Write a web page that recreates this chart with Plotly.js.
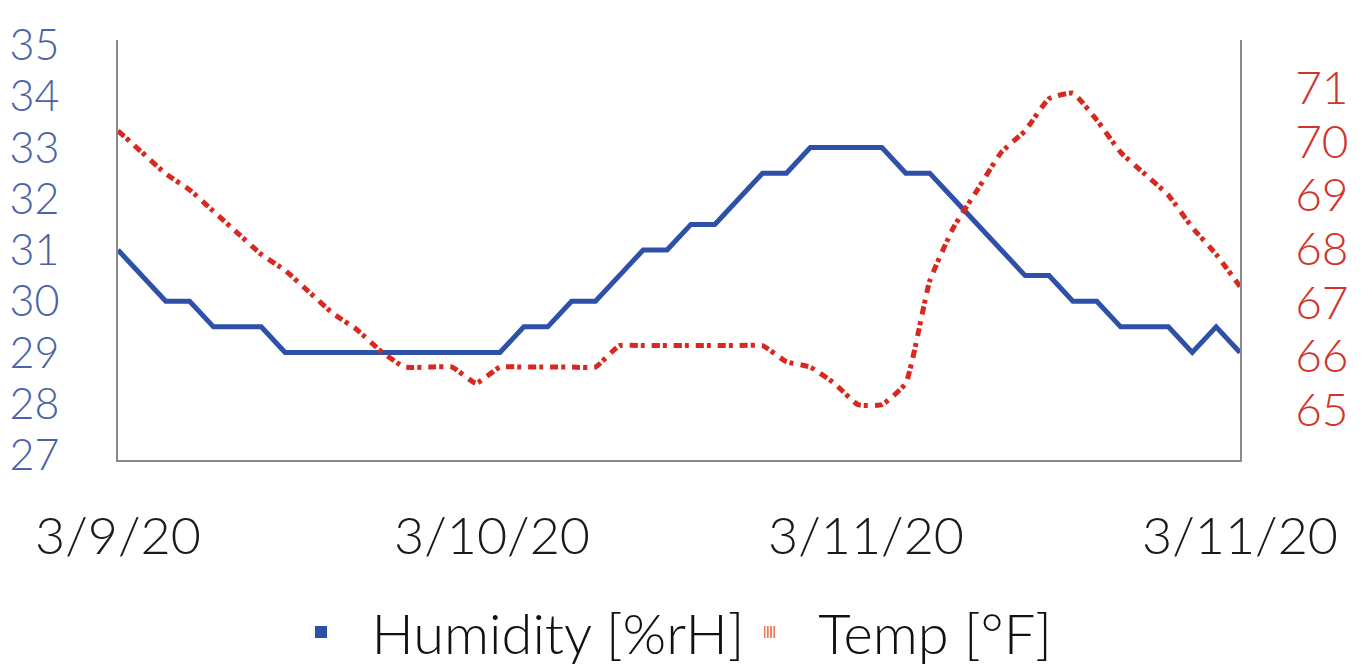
<!DOCTYPE html>
<html>
<head>
<meta charset="utf-8">
<script src="https://cdn.plot.ly/plotly-3.0.1.min.js"></script>
<style>html,body{margin:0;padding:0;background:#fff;}#chart{width:1361px;height:667px;}</style>
</head>
<body>
<div id="chart"></div>
<script>
// hourly readings (index 0..47)
const humidity = [31, 30.5, 30, 30, 29.5, 29.5, 29.5, 29, 29, 29, 29, 29, 29, 29, 29, 29,
  29, 29.5, 29.5, 30, 30, 30.5, 31, 31, 31.5, 31.5, 32, 32.5, 32.5, 33, 33, 33,
  33, 32.5, 32.5, 32, 31.5, 31, 30.5, 30.5, 30, 30, 29.5, 29.5, 29.5, 29, 29.5, 29];
const temp = [70.2, 69.8, 69.4, 69.1, 68.7, 68.3, 67.9, 67.6, 67.2, 66.8, 66.5, 66.1,
  65.8, 65.8, 65.8, 65.5, 65.8, 65.8, 65.8, 65.8, 65.8, 66.2, 66.2, 66.2, 66.2, 66.2, 66.2, 66.2,
  65.9, 65.8, 65.5, 65.1, 65.1, 65.5, 67.4, 68.4, 69.1, 69.8, 70.2, 70.8, 70.9, 70.4,
  69.8, 69.4, 69.0, 68.4, 67.9, 67.3];
const xLabels = ['3/9/20', '3/10/20', '3/11/20', '3/11/20'];
const leftTicks = [27, 28, 29, 30, 31, 32, 33, 34, 35];
const rightTicks = [65, 66, 67, 68, 69, 70, 71];
const names = ['Humidity [%rH]', 'Temp [°F]'];

const idx = humidity.map((_, i) => i);
const last = idx.length - 1;
const tickPos = xLabels.map((_, i) => i * last / (xLabels.length - 1));

const BLUE = '#2f50a8';
const RED = '#d8291f';
const FONT = 'Lato, Roboto, "Liberation Sans", sans-serif';
const PAD = '\u00a0\u00a0';

const traces = [
  {x: idx, y: humidity, type: 'scatter', mode: 'lines', yaxis: 'y', showlegend: false,
   line: {color: BLUE, width: 5}},
  {x: idx, y: temp, type: 'scatter', mode: 'lines', yaxis: 'y2', showlegend: false,
   line: {color: RED, width: 5, dash: '8px,3px,4px,7px', shape: 'spline', smoothing: 0.4}},
  {x: [null], y: [null], type: 'bar', name: PAD + names[0], yaxis: 'y',
   marker: {color: BLUE, line: {width: 0}}},
  {x: [null], y: [null], type: 'bar', name: PAD + names[1], yaxis: 'y',
   marker: {color: '#ffffff', line: {width: 0},
            pattern: {shape: '|', fgcolor: '#ee7a5a', bgcolor: '#ffffff', size: 4, solidity: 0.55}}}
];

const layout = {
  width: 1361, height: 667,
  margin: {l: 118, r: 121, t: 40, b: 207, autoexpand: false},
  paper_bgcolor: '#ffffff', plot_bgcolor: '#ffffff',
  font: {family: FONT, weight: 300},
  showlegend: true,
  legend: {orientation: 'h', x: 0.5, xanchor: 'center', y: -0.41, yanchor: 'middle',
           font: {size: 56, color: '#111111', family: FONT, weight: 300},
           itemwidth: 30, traceorder: 'normal'},
  xaxis: {range: [0, last], showgrid: false, zeroline: false,
          showline: true, linecolor: '#8a8a8a', linewidth: 2,
          tickmode: 'array', tickvals: tickPos, ticktext: xLabels, ticks: '',
          ticklabelstandoff: 30,
          tickfont: {size: 52, color: '#1a1a1a', family: FONT, weight: 300}},
  yaxis: {range: [26.9, 35.1], showgrid: false, zeroline: false,
          showline: true, linecolor: '#8a8a8a', linewidth: 2,
          tickmode: 'array', tickvals: leftTicks, ticks: '',
          ticklabelstandoff: 48,
          tickfont: {size: 43, color: '#4a62a8', family: FONT, weight: 300}},
  yaxis2: {range: [64.07, 71.89], overlaying: 'y', side: 'right', showgrid: false, zeroline: false,
           showline: true, linecolor: '#8a8a8a', linewidth: 2,
           tickmode: 'array', tickvals: rightTicks, ticks: '',
           ticklabelstandoff: 44,
           tickfont: {size: 46, color: '#d0342a', family: FONT, weight: 300}}
};

Plotly.newPlot('chart', traces, layout, {displayModeBar: false, staticPlot: true});
</script>
</body>
</html>
